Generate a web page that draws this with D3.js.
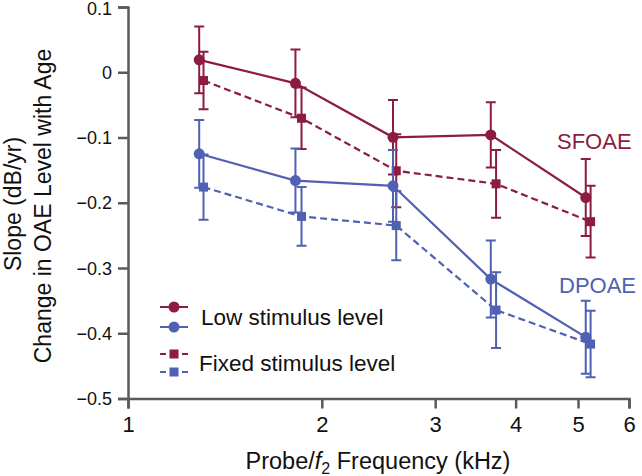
<!DOCTYPE html>
<html><head><meta charset="utf-8">
<script src="https://cdn.jsdelivr.net/npm/d3@7"></script>
<style>body{margin:0;background:#fff}svg{display:block;font-family:"Liberation Sans",Arial,sans-serif}</style>
</head><body><svg id="c" width="642" height="476"></svg>
<script>
const freqLow = [1.29, 1.82, 2.58, 3.66, 5.14];
const freqFixed = [1.31, 1.86, 2.61, 3.73, 5.23];
const sfoaeLow = [0.019, -0.017, -0.0997, -0.096, -0.192];
const sfoaeLowErr = [0.051, 0.052, 0.057, 0.050, 0.059];
const sfoaeFixed = [-0.0127, -0.0705, -0.151, -0.171, -0.229];
const sfoaeFixedErr = [0.044, 0.047, 0.056, 0.052, 0.055];
const dpoaeLow = [-0.125, -0.166, -0.174, -0.317, -0.406];
const dpoaeLowErr = [0.052, 0.049, 0.055, 0.059, 0.056];
const dpoaeFixed = [-0.176, -0.221, -0.235, -0.3645, -0.4166];
const dpoaeFixedErr = [0.050, 0.045, 0.053, 0.058, 0.051];
const xTicks = [1, 2, 3, 4, 5, 6];
const yTicks = [0.1, 0, -0.1, -0.2, -0.3, -0.4, -0.5];
const legendLabels = ["Low stimulus level", "Fixed stimulus level"];

const RED = "#8c1c40", BLUE = "#5060b2", AX = "#5a5a5a";
const svg = d3.select("#c");
const x = d3.scaleLog().domain([1, 6]).range([128, 629]);
const y = d3.scaleLinear().domain([-0.5, 0.1]).range([398.5, 7]);

const fmtY = v => v === 0 ? "0" : (v < 0 ? "\u2212" + Math.abs(v).toFixed(1) : v.toFixed(1));

const gx = svg.append("g").attr("transform", `translate(0,${y(-0.5)})`)
  .call(d3.axisBottom(x).tickValues(xTicks).tickFormat(d3.format("d")).tickSize(10).tickSizeOuter(10).tickPadding(8));
const gy = svg.append("g").attr("transform", `translate(${x(1)},0)`)
  .call(d3.axisLeft(y).tickValues(yTicks).tickFormat(fmtY).tickSize(10).tickSizeOuter(10).tickPadding(6));
[gx, gy].forEach(g => {
  g.select(".domain").attr("stroke", AX).attr("stroke-width", 2.5);
  g.selectAll(".tick line").attr("stroke", AX).attr("stroke-width", 2.5);
  g.selectAll("text").attr("fill", "#111").attr("font-family", '"Liberation Sans",Arial,sans-serif');
});
gx.selectAll("text").attr("font-size", 22);
gy.selectAll("text").attr("font-size", 18).attr("dy", "0.34em");
gy.selectAll(".tick").filter(d => d === 0.1).select("text").attr("dy", "0.42em");

const xt = svg.append("text").attr("x", 378).attr("y", 469).attr("text-anchor", "middle")
  .attr("font-size", 23.5).attr("fill", "#111");
xt.append("tspan").text("Probe/");
xt.append("tspan").attr("font-style", "italic").text("f");
xt.append("tspan").attr("font-size", 16).attr("dy", 5).text("2");
xt.append("tspan").attr("dy", -5).text(" Frequency (kHz)");

const yt = svg.append("text").attr("transform", "rotate(-90)").attr("text-anchor", "middle")
  .attr("font-size", 23).attr("fill", "#111");
yt.append("tspan").attr("x", -204).attr("y", 21).text("Slope (dB/yr)");
yt.append("tspan").attr("x", -206).attr("y", 51).text("Change in OAE Level with Age");

const series = [
  {f: freqFixed, v: sfoaeFixed, e: sfoaeFixedErr, c: RED, dash: "7,4", m: "sq"},
  {f: freqFixed, v: dpoaeFixed, e: dpoaeFixedErr, c: BLUE, dash: "7,4", m: "sq"},
  {f: freqLow, v: sfoaeLow, e: sfoaeLowErr, c: RED, dash: null, m: "ci"},
  {f: freqLow, v: dpoaeLow, e: dpoaeLowErr, c: BLUE, dash: null, m: "ci"}
];
const line = d3.line().x(d => x(d[0])).y(d => y(d[1]));
series.forEach(s => {
  const pts = s.f.map((f, i) => [f, s.v[i], s.e[i]]);
  const g = svg.append("g");
  pts.forEach(p => {
    const cx = x(p[0]), t = y(p[1] + p[2]), b = y(p[1] - p[2]);
    g.append("path").attr("d", `M${cx},${t}V${b}M${cx-5},${t}H${cx+5}M${cx-5},${b}H${cx+5}`)
      .attr("stroke", s.c).attr("stroke-width", 2).attr("fill", "none");
  });
  g.append("path").datum(pts).attr("d", line).attr("fill", "none").attr("stroke", s.c)
    .attr("stroke-width", 2.2).attr("stroke-dasharray", s.dash);
  pts.forEach(p => {
    if (s.m === "ci") g.append("circle").attr("cx", x(p[0])).attr("cy", y(p[1])).attr("r", 5.5).attr("fill", s.c);
    else g.append("rect").attr("x", x(p[0]) - 4.5).attr("y", y(p[1]) - 4.5).attr("width", 9).attr("height", 9).attr("fill", s.c);
  });
});

svg.append("text").attr("x", 557).attr("y", 149).attr("font-size", 22).attr("fill", RED).text("SFOAE");
svg.append("text").attr("x", 559).attr("y", 293).attr("font-size", 22).attr("fill", BLUE).text("DPOAE");

const leg = svg.append("g");
[[307, RED, "ci"], [327, BLUE, "ci"], [354, RED, "sq"], [372, BLUE, "sq"]].forEach(([ly, c, m]) => {
  leg.append("line").attr("x1", 160).attr("x2", 188).attr("y1", ly).attr("y2", ly).attr("stroke", c)
    .attr("stroke-width", 2).attr("stroke-dasharray", m === "sq" ? "6,5" : null);
  if (m === "ci") leg.append("circle").attr("cx", 174).attr("cy", ly).attr("r", 5.5).attr("fill", c);
  else leg.append("rect").attr("x", 169.5).attr("y", ly - 4.5).attr("width", 9).attr("height", 9).attr("fill", c);
});
leg.append("text").attr("x", 201).attr("y", 325).attr("font-size", 22.5).attr("fill", "#111").text(legendLabels[0]);
leg.append("text").attr("x", 199).attr("y", 371).attr("font-size", 22.5).attr("fill", "#111").text(legendLabels[1]);
</script></body></html>
